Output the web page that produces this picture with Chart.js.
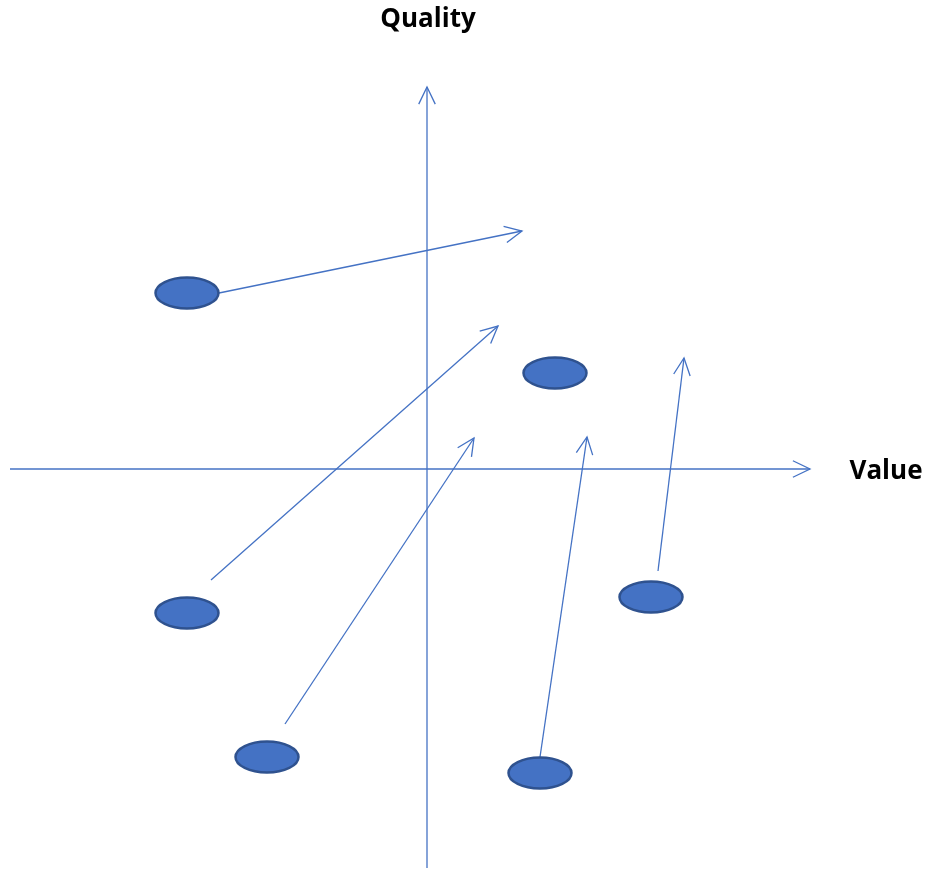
<!DOCTYPE html>
<html>
<head>
<meta charset="utf-8">
<script src="https://cdn.jsdelivr.net/npm/chart.js@4"></script>
<style>
  html, body { margin: 0; padding: 0; background: #fff; }
  #wrap { width: 930px; height: 871px; position: relative; }
</style>
</head>
<body>
<div id="wrap"><canvas id="chartCanvas"></canvas></div>
<script>
// positions in diagram units, origin where the two axes cross
const xAxisLine = [{ x: -417, y: 0 }, { x: 383, y: 0 }];
const yAxisLine = [{ x: 0, y: -399 }, { x: 0, y: 382 }];
const items = [
  { x: -240, y: 176 },
  { x: 128, y: 96 },
  { x: -240, y: -144 },
  { x: -160, y: -288 },
  { x: 113, y: -304 },
  { x: 224, y: -128 },
];
const moves = [
  [{ x: -208, y: 176 }, { x: 95, y: 238 }],
  [{ x: -216, y: -111 }, { x: 71, y: 143 }],
  [{ x: -142, y: -255 }, { x: 47, y: 31 }],
  [{ x: 113, y: -288 }, { x: 160, y: 32 }],
  [{ x: 231, y: -102 }, { x: 257, y: 111 }],
];
const xTitle = "Value";
const yTitle = "Quality";

const BLUE = "#4472C4";
const DARK = "#2F528F";

// ellipse marker as point style
const blob = document.createElement("canvas");
blob.width = 68;
blob.height = 36;
{
  const c = blob.getContext("2d");
  c.beginPath();
  c.ellipse(34, 18, 31.5, 15.5, 0, 0, Math.PI * 2);
  c.fillStyle = BLUE;
  c.fill();
  c.lineWidth = 2.5;
  c.strokeStyle = DARK;
  c.stroke();
}

function lineSet(data) {
  return {
    data: data,
    showLine: true,
    borderColor: BLUE,
    borderWidth: 1.3,
    pointRadius: 0,
    order: 2,
  };
}

const arrowHeads = {
  id: "arrowHeads",
  afterDatasetsDraw(chart) {
    const ctx = chart.ctx;
    const xs = chart.scales.x;
    const ys = chart.scales.y;
    const lines = [xAxisLine, yAxisLine].concat(moves);
    ctx.save();
    ctx.strokeStyle = BLUE;
    ctx.lineWidth = 1.3;
    lines.forEach(([a, b]) => {
      const x1 = xs.getPixelForValue(a.x), y1 = ys.getPixelForValue(a.y);
      const x2 = xs.getPixelForValue(b.x), y2 = ys.getPixelForValue(b.y);
      const ang = Math.atan2(y2 - y1, x2 - x1);
      const len = 19, spread = 0.45;
      ctx.beginPath();
      ctx.moveTo(x2 - len * Math.cos(ang - spread), y2 - len * Math.sin(ang - spread));
      ctx.lineTo(x2, y2);
      ctx.lineTo(x2 - len * Math.cos(ang + spread), y2 - len * Math.sin(ang + spread));
      ctx.stroke();
    });
    ctx.fillStyle = "#000";
    ctx.font = "bold 26px 'Open Sans'";
    ctx.textAlign = "center";
    ctx.textBaseline = "middle";
    ctx.fillText(yTitle, xs.getPixelForValue(1), ys.getPixelForValue(449));
    ctx.fillText(xTitle, xs.getPixelForValue(459), ys.getPixelForValue(-3));
    ctx.restore();
  },
};

const chart = new Chart(document.getElementById("chartCanvas"), {
  type: "scatter",
  data: {
    datasets: [
      lineSet(xAxisLine),
      lineSet(yAxisLine),
      ...moves.map(lineSet),
      {
        data: items,
        pointStyle: blob,
        order: 1,
      },
    ],
  },
  options: {
    responsive: true,
    maintainAspectRatio: false,
    animation: false,
    layout: { padding: 0, autoPadding: false },
    plugins: { legend: { display: false }, tooltip: { enabled: false } },
    scales: {
      x: { type: "linear", min: -427, max: 503, display: false },
      y: { type: "linear", min: -402, max: 469, display: false },
    },
  },
  plugins: [arrowHeads],
});
</script>
</body>
</html>
